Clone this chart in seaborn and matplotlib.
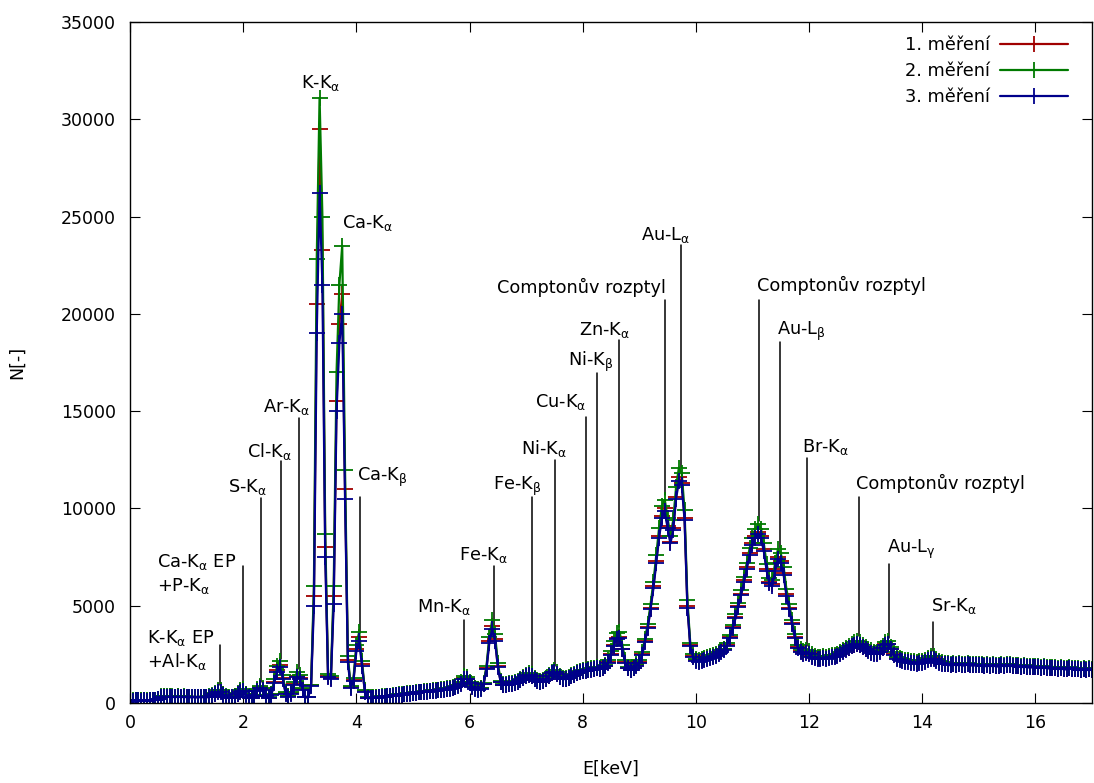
import numpy as np
import pandas as pd
import matplotlib
matplotlib.use("Agg")
import matplotlib.pyplot as plt
import seaborn as sns

# XRF spectrum, three repeated measurements; channel width 0.05 keV starting at 0 keV
energy_step = 0.05

counts_1 = [
    80, 120, 150, 140, 130, 150, 120, 140, 160, 150, 210, 330, 350, 320, 340, 330, 310, 340, 310, 330,
    320, 300, 320, 310, 300, 320, 310, 300, 330, 380, 480, 600, 620, 450, 330, 280, 300, 350, 480, 620,
    650, 450, 300, 280, 400, 650, 800, 700, 400, 280, 450, 1100, 1700, 1950, 1300, 500, 350, 500, 1000, 1400,
    1300, 700, 300, 300, 900, 5500, 20500, 29500, 23300, 8000, 1400, 1300, 5500, 15500, 19500, 21000, 11000, 2200, 800, 1200,
    2800, 3400, 2000, 600, 280, 250, 270, 290, 300, 320, 330, 350, 360, 380, 400, 420, 430, 450, 470, 490,
    510, 530, 550, 560, 580, 600, 610, 630, 650, 660, 680, 700, 720, 750, 780, 820, 900, 1050, 1300, 1250,
    1050, 850, 750, 700, 750, 1000, 1800, 3200, 3950, 3300, 1900, 1100, 950, 950, 1000, 1000, 1050, 1100, 1200, 1300,
    1400, 1450, 1400, 1250, 1150, 1100, 1150, 1250, 1400, 1550, 1600, 1500, 1350, 1250, 1250, 1300, 1400, 1450, 1550, 1600,
    1650, 1650, 1700, 1750, 1750, 1800, 1750, 1800, 1900, 2100, 2500, 3000, 3350, 3400, 2800, 2100, 1800, 1700, 1800, 1950,
    2100, 2500, 3200, 3900, 4900, 6000, 7300, 8600, 9600, 10000, 9100, 8300, 9000, 10600, 11600, 11300, 9500, 5000, 3000, 2400,
    2200, 2150, 2200, 2250, 2300, 2350, 2400, 2450, 2550, 2650, 2750, 3000, 3400, 3900, 4400, 5000, 5600, 6300, 7000, 7700,
    8200, 8600, 8800, 8600, 7900, 6900, 6200, 6100, 6900, 7500, 7300, 6700, 5600, 4900, 4100, 3400, 2900, 2650, 2550, 2600,
    2550, 2400, 2350, 2300, 2300, 2350, 2300, 2350, 2400, 2400, 2450, 2550, 2650, 2750, 2850, 2950, 3000, 3050, 3000, 2900,
    2800, 2700, 2600, 2550, 2550, 2650, 2850, 3050, 3050, 2800, 2500, 2300, 2250, 2200, 2150, 2150, 2100, 2100, 2050, 2100,
    2100, 2150, 2250, 2300, 2300, 2200, 2100, 2050, 2000, 2000, 1950, 2000, 1950, 2000, 1950, 1950, 2000, 1950, 1950, 1950,
    1950, 1950, 1900, 1950, 1900, 1950, 1900, 1900, 1950, 1900, 1950, 1950, 1900, 1900, 1900, 1850, 1900, 1850, 1850, 1850,
    1850, 1850, 1800, 1850, 1800, 1800, 1800, 1800, 1750, 1800, 1750, 1750, 1800, 1750, 1750, 1750, 1700, 1750, 1700, 1750,
    1700,
]

counts_2 = [
    90, 130, 160, 150, 140, 160, 130, 150, 170, 160, 230, 350, 360, 340, 350, 340, 330, 350, 330, 340,
    330, 320, 330, 320, 320, 330, 320, 320, 340, 400, 520, 650, 680, 480, 350, 300, 320, 380, 520, 680,
    700, 480, 320, 300, 430, 700, 870, 750, 430, 300, 480, 1250, 1900, 2150, 1450, 550, 380, 550, 1100, 1600,
    1450, 750, 320, 320, 950, 6000, 22800, 31100, 25000, 8700, 1500, 1400, 6000, 17000, 21500, 23500, 12000, 2400, 850, 1300,
    3000, 3650, 2150, 650, 300, 270, 290, 310, 320, 340, 350, 370, 380, 400, 420, 440, 450, 470, 490, 510,
    530, 550, 570, 580, 600, 620, 630, 650, 670, 690, 700, 720, 750, 780, 810, 850, 940, 1100, 1400, 1350,
    1100, 900, 790, 740, 790, 1050, 1900, 3400, 4250, 3550, 2050, 1150, 1000, 1000, 1050, 1050, 1100, 1150, 1250, 1350,
    1450, 1520, 1470, 1300, 1200, 1150, 1200, 1300, 1450, 1600, 1680, 1580, 1400, 1300, 1300, 1350, 1450, 1500, 1600, 1650,
    1700, 1720, 1750, 1800, 1800, 1850, 1800, 1850, 1950, 2200, 2650, 3200, 3600, 3650, 3000, 2200, 1850, 1750, 1850, 2000,
    2200, 2600, 3300, 4050, 5100, 6200, 7600, 9000, 10100, 10450, 9500, 8600, 9400, 11100, 12100, 11800, 9900, 5300, 3100, 2500,
    2250, 2200, 2250, 2300, 2350, 2400, 2450, 2500, 2600, 2700, 2800, 3100, 3500, 4000, 4550, 5150, 5800, 6500, 7200, 7950,
    8500, 8950, 9200, 8950, 8200, 7150, 6400, 6300, 7200, 7900, 7700, 7000, 5850, 5100, 4250, 3550, 3000, 2750, 2650, 2700,
    2650, 2500, 2400, 2350, 2350, 2400, 2350, 2400, 2450, 2450, 2500, 2600, 2700, 2850, 2950, 3050, 3150, 3200, 3150, 3000,
    2900, 2800, 2700, 2600, 2600, 2700, 2950, 3150, 3200, 2900, 2600, 2350, 2300, 2250, 2200, 2200, 2150, 2150, 2100, 2150,
    2150, 2200, 2300, 2400, 2400, 2250, 2150, 2100, 2050, 2050, 2000, 2050, 2000, 2050, 2000, 2000, 2050, 2000, 2000, 2000,
    2000, 2000, 1950, 2000, 1950, 2000, 1950, 1950, 2000, 1950, 2000, 2000, 1950, 1950, 1950, 1900, 1950, 1900, 1900, 1900,
    1900, 1900, 1850, 1900, 1850, 1850, 1850, 1850, 1800, 1850, 1800, 1800, 1850, 1800, 1800, 1800, 1750, 1800, 1750, 1800,
    1750,
]

counts_3 = [
    70, 110, 140, 130, 120, 140, 110, 130, 150, 140, 190, 310, 330, 300, 320, 310, 300, 320, 300, 310,
    300, 290, 300, 290, 290, 300, 290, 290, 310, 360, 450, 570, 590, 430, 310, 270, 290, 330, 450, 590,
    620, 430, 290, 270, 380, 620, 760, 660, 380, 270, 430, 1050, 1600, 1850, 1250, 480, 330, 480, 950, 1350,
    1250, 680, 290, 290, 850, 5000, 19000, 26200, 21500, 7500, 1350, 1250, 5100, 15000, 18500, 20000, 10500, 2100, 780, 1150,
    2650, 3200, 1900, 580, 270, 240, 260, 280, 290, 310, 320, 340, 350, 370, 390, 410, 420, 440, 460, 480,
    500, 520, 540, 550, 570, 590, 600, 620, 640, 650, 670, 690, 710, 740, 770, 810, 870, 1000, 1250, 1220,
    1020, 830, 740, 690, 740, 980, 1750, 3100, 3800, 3200, 1850, 1080, 930, 930, 980, 980, 1030, 1080, 1180, 1280,
    1370, 1420, 1380, 1230, 1130, 1080, 1130, 1230, 1380, 1520, 1570, 1480, 1330, 1230, 1230, 1280, 1380, 1430, 1530, 1580,
    1630, 1640, 1680, 1720, 1730, 1780, 1730, 1780, 1880, 2080, 2450, 2950, 3300, 3350, 2750, 2050, 1780, 1680, 1780, 1920,
    2080, 2450, 3150, 3850, 4850, 5900, 7200, 8500, 9500, 9850, 9000, 8200, 8900, 10500, 11400, 11200, 9400, 4900, 2950, 2350,
    2180, 2130, 2180, 2230, 2280, 2330, 2380, 2430, 2530, 2630, 2730, 2950, 3350, 3850, 4350, 4950, 5550, 6200, 6900, 7600,
    8100, 8500, 8700, 8500, 7800, 6800, 6150, 6000, 6800, 7400, 7200, 6600, 5500, 4850, 4050, 3350, 2850, 2600, 2500, 2550,
    2500, 2380, 2320, 2280, 2280, 2320, 2280, 2320, 2380, 2380, 2420, 2520, 2620, 2720, 2820, 2920, 2980, 3020, 2980, 2880,
    2780, 2680, 2580, 2530, 2530, 2630, 2830, 3000, 3020, 2780, 2480, 2280, 2230, 2180, 2130, 2130, 2080, 2080, 2030, 2080,
    2080, 2130, 2230, 2280, 2280, 2180, 2080, 2030, 1980, 1980, 1930, 1980, 1930, 1980, 1930, 1930, 1980, 1930, 1930, 1930,
    1930, 1930, 1880, 1930, 1880, 1930, 1880, 1880, 1930, 1880, 1930, 1930, 1880, 1880, 1880, 1830, 1880, 1830, 1830, 1830,
    1830, 1830, 1780, 1830, 1780, 1780, 1780, 1780, 1730, 1780, 1730, 1730, 1780, 1730, 1730, 1730, 1680, 1730, 1680, 1730,
    1680,
]

series_labels = ["1. měření", "2. měření", "3. měření"]
series_colors = ["#a00000", "#007a00", "#00008b"]

energy = np.round(np.arange(len(counts_1)) * energy_step, 3)
all_counts = [counts_1, counts_2, counts_3]

# Peak labels: text, energy of the marker line (None = no line), top of the line,
# text anchor energy, text baseline, horizontal alignment
peak_labels = [
    ("K-K$_{\\mathrm{α}}$ EP", 1.59, 2980, 0.30, 3070, "left"),
    ("+Al-K$_{\\mathrm{α}}$", None, None, 0.30, 1835, "left"),
    ("Ca-K$_{\\mathrm{α}}$ EP", 1.99, 7040, 0.476, 6990, "left"),
    ("+P-K$_{\\mathrm{α}}$", None, None, 0.476, 5770, "left"),
    ("S-K$_{\\mathrm{α}}$", 2.31, 10540, 2.417, 10860, "right"),
    ("Cl-K$_{\\mathrm{α}}$", 2.66, 12440, 2.859, 12660, "right"),
    ("Ar-K$_{\\mathrm{α}}$", 2.99, 14650, 3.176, 14970, "right"),
    ("K-K$_{\\mathrm{α}}$", None, None, 3.37, 31590, "center"),
    ("Ca-K$_{\\mathrm{α}}$", None, None, 3.741, 24400, "left"),
    ("Ca-K$_{\\mathrm{β}}$", 4.06, 10590, 4.006, 11426, "left"),
    ("Mn-K$_{\\mathrm{α}}$", 5.91, 4270, 6.03, 4660, "right"),
    ("Fe-K$_{\\mathrm{α}}$", 6.44, 7040, 6.67, 7350, "right"),
    ("Fe-K$_{\\mathrm{β}}$", 7.11, 10590, 7.27, 10950, "right"),
    ("Ni-K$_{\\mathrm{α}}$", 7.51, 12490, 7.73, 12800, "right"),
    ("Cu-K$_{\\mathrm{α}}$", 8.05, 14700, 8.064, 15230, "right"),
    ("Ni-K$_{\\mathrm{β}}$", 8.25, 16960, 8.54, 17320, "right"),
    ("Zn-K$_{\\mathrm{α}}$", 8.65, 18660, 8.835, 18915, "right"),
    ("Comptonův rozptyl", 9.45, 20714, 9.476, 21090, "right"),
    ("Au-L$_{\\mathrm{α}}$", 9.74, 23540, 9.03, 23800, "left"),
    ("Comptonův rozptyl", 11.12, 20700, 11.08, 21190, "left"),
    ("Au-L$_{\\mathrm{β}}$", 11.49, 18555, 11.435, 18915, "left"),
    ("Br-K$_{\\mathrm{α}}$", 11.96, 12590, 11.875, 12920, "left"),
    ("Comptonův rozptyl", 12.88, 10590, 12.83, 10985, "left"),
    ("Au-L$_{\\mathrm{γ}}$", 13.42, 7145, 13.375, 7695, "left"),
    ("Sr-K$_{\\mathrm{α}}$", 14.19, 4163, 14.15, 4730, "left"),
]

sns.set_theme(style="ticks")
plt.rcParams["font.family"] = ["DejaVu Sans"]
plt.rcParams["mathtext.fontset"] = "dejavusans"
plt.rcParams["text.color"] = "black"
plt.rcParams["axes.labelcolor"] = "black"

fig, ax = plt.subplots(figsize=(10.94, 7.83), dpi=100)
fig.subplots_adjust(left=130 / 1094, right=1092 / 1094, bottom=80 / 783, top=761 / 783)

frames = [pd.DataFrame({"E": energy, "N": vals, "mereni": lab})
          for lab, vals in zip(series_labels, all_counts)]
df = pd.concat(frames, ignore_index=True)

for lab, col in zip(series_labels, series_colors):
    sns.lineplot(data=df[df["mereni"] == lab], x="E", y="N", ax=ax,
                 color=col, lw=1.6, marker="+", markersize=11,
                 markeredgewidth=1.3, markeredgecolor=col,
                 sort=False, estimator=None, label=lab)

# marker lines and element labels
for text, e_line, top, tx, ty, ha in peak_labels:
    if e_line is not None:
        peak = max(np.interp(e_line, energy, c) for c in all_counts)
        ax.plot([e_line, e_line], [peak + 250, top], color="black", lw=1.1, zorder=1)
    ax.text(tx, ty, text, ha=ha, va="baseline", fontsize=12.8, color="black")

ax.set_xlim(0, 17)
ax.set_ylim(0, 35000)
ax.set_xticks(np.arange(0, 17, 2))
ax.set_yticks(np.arange(0, 35001, 5000))
ax.tick_params(direction="in", length=7, width=0.8, top=True, right=True,
               labelsize=12.5, colors="black")
ax.tick_params(axis="x", pad=8)
ax.tick_params(axis="y", pad=10)
for sp in ax.spines.values():
    sp.set_visible(True)
    sp.set_color("black")
    sp.set_linewidth(1.0)

ax.set_xlabel("E[keV]", fontsize=12.5, labelpad=20, color="black")
ax.set_ylabel("N[-]", fontsize=12.5, labelpad=25, color="black")

leg = ax.legend(loc="upper right", bbox_to_anchor=(1068 / 1094, 1 - 36 / 783),
                bbox_transform=fig.transFigure, frameon=False, markerfirst=False,
                handlelength=3.8, handletextpad=0.6, labelspacing=0.45,
                borderaxespad=0, borderpad=0, fontsize=12.8)
for t in leg.get_texts():
    t.set_color("black")

fig.savefig("out.png", dpi=100)
